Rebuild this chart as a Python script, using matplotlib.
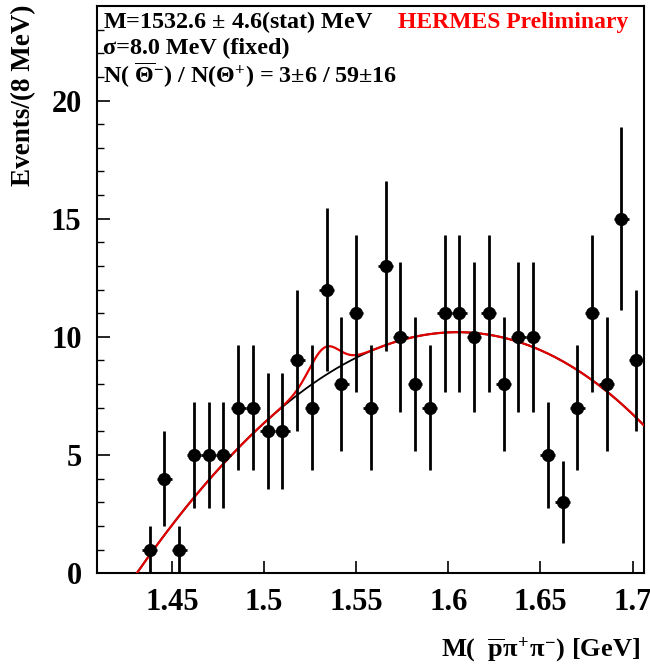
import matplotlib
matplotlib.use("Agg")
import matplotlib.pyplot as plt
import numpy as np

# measured spectrum, 8 MeV bins
bin_centers = [1.438, 1.446, 1.454, 1.462, 1.470, 1.478, 1.486, 1.494, 1.502, 1.510,
               1.518, 1.526, 1.534, 1.542, 1.550, 1.558, 1.566, 1.574, 1.582, 1.590,
               1.598, 1.606, 1.614, 1.622, 1.630, 1.638, 1.646, 1.654, 1.662, 1.670,
               1.678, 1.686, 1.694, 1.702]
counts = [1, 4, 1, 5, 5, 5, 7, 7, 6, 6,
          9, 7, 12, 8, 11, 7, 13, 10, 8, 7,
          11, 11, 10, 11, 8, 10, 10, 5, 3, 7,
          11, 8, 15, 9]
count_err = [1.00, 2.00, 1.00, 2.24, 2.24, 2.24, 2.65, 2.65, 2.45, 2.45,
             3.00, 2.65, 3.46, 2.83, 3.32, 2.65, 3.61, 3.16, 2.83, 2.65,
             3.32, 3.32, 3.16, 3.32, 2.83, 3.16, 3.16, 2.24, 1.73, 2.65,
             3.32, 2.83, 3.87, 3.00]
bin_width = 0.008

# fit result: threshold polynomial background + gaussian peak
bkg_threshold = 1.431
bkg_coef = [111.9, -275.7, -175.8]   # d, d^2, d^3 with d = M - threshold
peak_mass = 1.5326
peak_sigma = 0.008
peak_events = 3

info_lines = ["M=1532.6 $\\pm$ 4.6(stat) MeV",
              "\u03c3=8.0 MeV (fixed)",
              "N( $\\overline{\\Theta}^{-}$) / N($\\Theta^{+}$) = 3$\\pm$6 / 59$\\pm$16"]


def background(x):
    d = np.clip(x - bkg_threshold, 0, None)
    return bkg_coef[0]*d + bkg_coef[1]*d**2 + bkg_coef[2]*d**3


def signal(x):
    amp = peak_events*bin_width/(np.sqrt(2*np.pi)*peak_sigma)
    return amp*np.exp(-0.5*((x - peak_mass)/peak_sigma)**2)


def main():
    plt.rcParams['font.family'] = 'Liberation Serif'
    plt.rcParams['font.weight'] = 'bold'
    plt.rcParams['mathtext.fontset'] = 'custom'
    plt.rcParams['mathtext.rm'] = 'Liberation Serif:bold'
    plt.rcParams['mathtext.it'] = 'Liberation Serif:bold'
    plt.rcParams['mathtext.bf'] = 'Liberation Serif:bold'

    fig = plt.figure(figsize=(6.5, 6.68), dpi=100)
    ax = fig.add_axes([0.149, 0.142, 0.842, 0.849])

    xf = np.linspace(bkg_threshold, 1.706, 600)
    ax.plot(xf, background(xf), color='black', lw=1.3, zorder=2)
    ax.plot(xf, background(xf) + signal(xf), color='#e00000', lw=1.6, zorder=3)

    ax.errorbar(bin_centers, counts, yerr=count_err, xerr=bin_width/2,
                fmt='o', color='black', ms=8.5, elinewidth=2.0, capsize=0, zorder=4)

    ax.set_xlim(1.4093, 1.7063)
    ax.set_ylim(0, 24)
    ax.set_xticks([1.45, 1.5, 1.55, 1.6, 1.65, 1.7])
    ax.set_xticklabels(["1.45", "1.5", "1.55", "1.6", "1.65", "1.7"])
    ax.set_yticks([0, 5, 10, 15, 20])
    ax.set_yticks(np.arange(0, 24, 1), minor=True)
    ax.tick_params(axis='both', which='major', direction='in', length=9, width=1.2,
                   labelsize=22)
    ax.tick_params(axis='y', which='minor', direction='in', length=5, width=1.0)
    ax.tick_params(axis='x', which='major', pad=11)
    ax.tick_params(axis='y', which='major', pad=11)
    for s in ax.spines.values():
        s.set_linewidth(1.5)

    fig.text(0.036, 0.993, "Events/(8 MeV)", rotation=90, ha='center', va='top',
             fontsize=19.5, fontweight='bold')
    fig.text(0.985, 0.027, "M(  $\\overline{\\mathrm{p}}\\pi^{+}\\pi^{-}$) [GeV]",
             ha='right', va='center', fontsize=19, fontweight='bold')

    ys = [0.967, 0.928, 0.887]
    for y, t in zip(ys, info_lines):
        fig.text(0.158, y, t, ha='left', va='center', fontsize=17.4, fontweight='bold')
    fig.text(0.966, 0.967, "HERMES Preliminary", ha='right', va='center',
             fontsize=17, fontweight='bold', color='#ff0000')

    fig.savefig("out.png", dpi=100)


if __name__ == "__main__":
    main()
